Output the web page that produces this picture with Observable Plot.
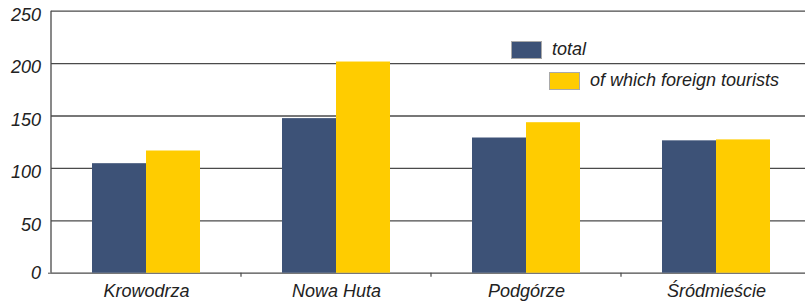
<!DOCTYPE html>
<html>
<head>
<meta charset="utf-8">
<script src="https://cdn.jsdelivr.net/npm/d3@7"></script>
<script src="https://cdn.jsdelivr.net/npm/@observablehq/plot@0.6"></script>
<style>
  html, body { margin: 0; padding: 0; background: #fff; overflow: hidden; }
  #wrap { position: relative; width: 805px; height: 301px; font-family: "Liberation Sans", Arial, sans-serif; font-style: italic; font-size: 18px; color: #222; }
  #wrap svg text { font-style: italic; font-family: "Liberation Sans", Arial, sans-serif; }
  .legend { position: absolute; display: flex; align-items: center; }
  .sw { width: 29px; height: 16px; border: 1px solid #a9a9a9; margin-right: 10px; }
</style>
</head>
<body>
<div id="wrap"></div>
<script>
const districts = ["Krowodrza", "Nowa Huta", "Podgórze", "Śródmieście"];
const total = [104.5, 147.5, 129, 126.3];
const foreign = [116.6, 201.5, 143.6, 127.2];
const seriesNames = ["total", "of which foreign tourists"];
const seriesColors = ["#3d5277", "#ffcc00"];
const yTicks = [0, 50, 100, 150, 200, 250];

const data = districts.flatMap((d, i) => [
  {district: d, series: seriesNames[0], value: total[i]},
  {district: d, series: seriesNames[1], value: foreign[i]}
]);

const chart = Plot.plot({
  width: 805,
  height: 301,
  marginLeft: 50,
  marginRight: -7,
  marginTop: 10.7,
  marginBottom: 28.3,
  style: {fontFamily: "Liberation Sans, Arial, sans-serif", fontSize: "18px", fontStyle: "italic", color: "#222", background: "#fff"},
  fx: {domain: districts, padding: 0, label: null},
  x: {domain: seriesNames, paddingInner: 0, paddingOuter: 0.732, axis: null},
  y: {domain: [0, 250], label: null},
  color: {domain: seriesNames, range: seriesColors},
  marks: [
    Plot.ruleY(yTicks, {stroke: "#4a4a4a", strokeWidth: 1.3}),
    Plot.barY(data, {fx: "district", x: "series", y: "value", fill: "series"}),
    Plot.axisY(yTicks.filter(d => d > 0), {tickSize: 0, tickPadding: 10.5, dy: 4, label: null, fill: "#222", fontStyle: "italic"}),
    Plot.axisY([0], {tickSize: 3, tickPadding: 7.5, label: null, stroke: "#4a4a4a", fill: "#222", fontStyle: "italic"}),
    Plot.axisFx({anchor: "bottom", tickSize: 0, tickPadding: 11, label: null, fill: "#222", fontStyle: "italic"})
  ]
});

// y-axis line and category boundary ticks, positioned from the chart's own scales
const fx = chart.scale("fx");
const y = chart.scale("y");
const svg = d3.select(chart.tagName === "svg" ? chart : chart.querySelector("svg"));
const y0 = y.apply(0);
const yTop = y.apply(250);
const left = fx.apply(districts[0]);
svg.append("line")
  .attr("x1", left).attr("x2", left).attr("y1", yTop).attr("y2", y0)
  .attr("stroke", "#4a4a4a").attr("stroke-width", 1.3);
districts.slice(1).forEach(d => {
  const xb = fx.apply(d);
  svg.append("line")
    .attr("x1", xb).attr("x2", xb).attr("y1", y0).attr("y2", y0 + 4)
    .attr("stroke", "#4a4a4a").attr("stroke-width", 1.2);
});

const wrap = document.getElementById("wrap");
wrap.appendChild(chart);

// legend overlay
const legendPos = [{left: 511, top: 39}, {left: 549, top: 70}];
seriesNames.forEach((s, i) => {
  const item = document.createElement("div");
  item.className = "legend";
  item.style.left = legendPos[i].left + "px";
  item.style.top = legendPos[i].top + "px";
  const sw = document.createElement("div");
  sw.className = "sw";
  sw.style.background = seriesColors[i];
  const label = document.createElement("span");
  label.textContent = s;
  item.appendChild(sw);
  item.appendChild(label);
  wrap.appendChild(item);
});
</script>
</body>
</html>
